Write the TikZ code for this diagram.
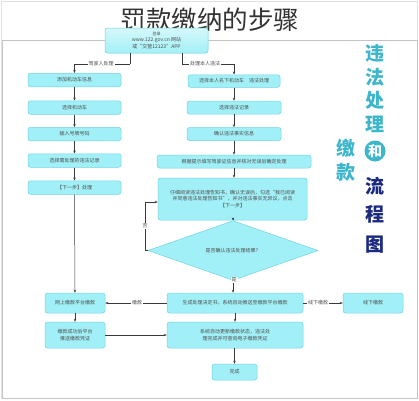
\documentclass[tikz,border=0pt]{standalone}
\usepackage{fontspec}
\newfontfamily\cjk{Noto Sans CJK SC}
\XeTeXlinebreaklocale "zh"
\XeTeXlinebreakskip = 0pt
\usetikzlibrary{shapes.geometric,arrows.meta}
\definecolor{boxfill}{HTML}{A2F0F7}
\definecolor{boxline}{HTML}{6FD3E3}
\definecolor{arrc}{HTML}{3A3A3A}
\definecolor{tealt}{HTML}{3DB6CB}
\definecolor{navyt}{HTML}{1C2A80}
\definecolor{framec}{HTML}{C4C4C4}
\tikzset{
  stepbox/.style={draw=boxline, fill=boxfill, rounded corners=2.5pt, line width=0.5pt,
    font=\cjk\fontsize{5}{6.2}\selectfont, text=black!70, align=center, inner sep=1pt, anchor=center},
  arr/.style={draw=arrc, line width=0.5pt, -{Stealth[length=3pt,width=2.4pt]}},
  ln/.style={draw=arrc, line width=0.5pt},
  lbl/.style={fill=white, font=\cjk\fontsize{5}{6}\selectfont, text=black!70, inner sep=1pt},
  bigt/.style={font=\cjk\bfseries\fontsize{19}{19}\selectfont, inner sep=0pt},
}
\begin{document}
\begin{tikzpicture}[x=1pt,y=-1pt]
\useasboundingbox (0,0) rectangle (419,400);
\fill[white] (0,0) rectangle (419,400);
\draw[framec!50, line width=0.4pt] (1.5,1.5) rectangle (417.5,398.5);
\draw[framec, line width=0.6pt] (2,40) rectangle (417,398);

% title
\node[font=\cjk\fontsize{25.5}{26}\selectfont, text=black!80, inner sep=0pt] (title) at (210,20) {罚款缴纳的步骤};

% top box
\node[stepbox, top color=boxfill!45, bottom color=boxfill, minimum width=103pt, minimum height=25pt] (top) at (156.5,40.5)
  {{\fontsize{4}{5}\selectfont 登录}\\www.122.gov.cn 网站\\或“交管12123”APP};

% left column
\foreach \n/\y/\t in {L1/80/添加机动车信息, L2/107.5/选择机动车, L3/134/输入号牌号码, L4/160.5/选择需处理的违法记录, L5/187.5/【下一步】处理}
  \node[stepbox, minimum width=93pt, minimum height=13.5pt] (\n) at (74.5,\y) {\t};

% right column
\node[stepbox, minimum width=92pt, minimum height=12.5pt] (R1) at (234,81) {选择本人名下机动车\quad 违法处理};
\node[stepbox, minimum width=94pt, minimum height=13pt] (R2) at (234,107.5) {选择违法记录};
\node[stepbox, minimum width=94pt, minimum height=13pt] (R3) at (234,134) {确认违法事实信息};
\node[stepbox, minimum width=154pt, minimum height=13pt] (R4) at (234,161.5) {根据提示填写驾驶证信息并核对无误后确定处理};
\node[stepbox, minimum width=149pt, minimum height=42pt, text width=132pt] (R5) at (232.5,199)
  {仔细阅读违法处理告知书，确认无误后，勾选“我已阅读并同意违法处理告知书”，并对违法事实无异议，点击\\【下一步】};
\node[diamond, draw=boxline, fill=boxfill, line width=0.5pt, minimum width=170pt, minimum height=33pt,
  inner sep=0pt, font=\cjk\fontsize{5}{6}\selectfont, text=black!70] (D) at (233,250.5) {是否确认违法处理结果？};

% bottom
\node[stepbox, minimum width=60pt, minimum height=20pt] (P1) at (75,303) {网上缴款平台缴款};
\node[stepbox, minimum width=60pt, minimum height=26pt, text width=50pt] (P2) at (75,335) {缴款成功后平台推送缴款凭证};
\node[stepbox, minimum width=136pt, minimum height=20pt, text width=118pt] (M1) at (235,303) {生成处理决定书，系统自动推送至缴款平台缴款};
\node[stepbox, minimum width=136pt, minimum height=26pt, text width=122pt] (M2) at (235,335) {系统自动更新缴款状态，违法处理完成并可查询电子缴款凭证};
\node[stepbox, minimum width=60pt, minimum height=20pt] (Q1) at (373,303) {线下缴款};
\node[stepbox, minimum width=45pt, minimum height=16pt] (F) at (234.5,372) {完成};

% connectors top
\coordinate (tl) at (130,64);
\coordinate (tr) at (182,64);
\draw[ln] (top.south -| tl) -- (tl);
\draw[arr] (tl) -| (L1.north);
\node[lbl] at (101,64) {驾驶人处理};
\draw[ln] (top.south -| tr) -- (tr);
\draw[arr] (tr) -| (R1.north);
\node[lbl] at (205,64) {处理本人违法};

\draw[arr] (L1) -- (L2);
\draw[arr] (L2) -- (L3);
\draw[arr] (L3) -- (L4);
\draw[arr] (L4) -- (L5);
\draw[arr] (L5) -- (P1);

\draw[arr] (R1) -- (R2);
\draw[arr] (R2) -- (R3);
\draw[arr] (R3) -- (R4);
\draw[arr] (R4) -- (R5.north -| R4.south);
\draw[arr] (R5.south -| D.north) -- (D);

\coordinate (lp) at (145,250.5);
\draw[ln] (D.west) -- (lp);
\draw[arr] (lp) |- ([yshift=-3pt]R5.west);
\node[lbl] at (145,226) {否};

\draw[arr] (D.south) -- (D.south |- M1.north);
\node[lbl] at (234,280) {是};

\draw[arr] (M1) -- (P1);
\node[lbl] at (137,303) {缴款};
\draw[arr] (M1) -- (Q1);
\node[lbl] at (318,303) {线下缴款};

\draw[arr] (P1) -- (P2);
\draw[arr] (P2) -- (M2);
\draw[arr] (M1) -- (M2);
\draw[arr] (M2.south -| F.north) -- (F);

% big vertical text
\node[bigt, text=tealt] (c1) at (375,53) {违};
\node[bigt, text=tealt] (c2) at (375,77) {法};
\node[bigt, text=tealt] (c3) at (375,100.5) {处};
\node[bigt, text=tealt] (c4) at (375,124.5) {理};
\node[circle, fill=tealt, minimum size=21pt, inner sep=0pt, text=white, font=\cjk\bfseries\fontsize{14}{14}\selectfont] (c5) at (375,151) {和};
\node[bigt, text=tealt] (c6) at (346,148) {缴};
\node[bigt, text=tealt] (c7) at (346,172) {款};
\node[bigt, text=navyt] (c8) at (375,186) {流};
\node[bigt, text=navyt] (c9) at (375,214) {程};
\node[bigt, text=navyt] (c10) at (375,245) {图};
\end{tikzpicture}
\end{document}
